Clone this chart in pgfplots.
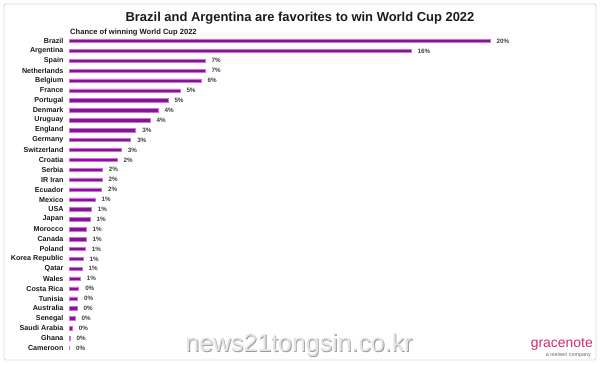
\documentclass[border=0pt]{standalone}
\usepackage{pgfplots}
\usepackage{pgfplotstable}
\pgfplotsset{compat=1.18}
\usepackage{fontspec}
\setmainfont{Liberation Sans}
\definecolor{barpurple}{HTML}{7E1A8E}
\definecolor{barglow}{HTML}{D66ADF}
\definecolor{gnote}{HTML}{D42A6E}
\definecolor{txt}{HTML}{1A1A1A}
\pgfplotstableread[col sep=comma]{
y,val,name,lab
0,0.03,Cameroon,0\%
1,0.05,Ghana,0\%
2,0.16,Saudi Arabia,0\%
3,0.29,Senegal,0\%
4,0.38,Australia,0\%
5,0.41,Tunisia,0\%
6,0.46,Costa Rica,0\%
7,0.54,Wales,1\%
8,0.62,Qatar,1\%
9,0.67,Korea Republic,1\%
10,0.77,Poland,1\%
11,0.81,Canada,1\%
12,0.81,Morocco,1\%
13,1.00,Japan,1\%
14,1.06,USA,1\%
15,1.24,Mexico,1\%
16,1.55,Ecuador,2\%
17,1.57,IR Iran,2\%
18,1.58,Serbia,2\%
19,2.28,Croatia,2\%
20,2.49,Switzerland,3\%
21,2.93,Germany,3\%
22,3.17,England,3\%
23,3.85,Uruguay,4\%
24,4.23,Denmark,4\%
25,4.70,Portugal,5\%
26,5.27,France,5\%
27,6.27,Belgium,6\%
28,6.46,Netherlands,7\%
29,6.46,Spain,7\%
30,16.25,Argentina,16\%
31,20.00,Brazil,20\%
}\data
\begin{document}
\begin{tikzpicture}[x=1bp,y=1bp]
\path[use as bounding box] (0,0) rectangle (600,365);
\draw[rounded corners=2bp, draw=black!15, line width=0.8bp] (4,5) rectangle (596,361);
\node[font=\fontsize{13}{15}\selectfont\bfseries, text=txt] at (300,347) {Brazil and Argentina are favorites to win World Cup 2022};
\node[anchor=west, font=\fontsize{7.6}{9}\selectfont\bfseries, text=txt, inner sep=0pt] at (70,332) {Chance of winning World Cup 2022};
\begin{axis}[
  at={(69bp,17bp)}, anchor=south west,
  width=421bp, height=307bp, scale only axis,
  xmin=0, xmax=20, ymin=0, ymax=31,
  xbar, bar width=3.4bp,
  axis line style={draw=none},
  xtick=\empty,
  ytick={0,...,31},
  yticklabels from table={\data}{name},
  major tick length=0pt,
  y tick label style={font=\fontsize{7.2}{8}\selectfont\bfseries, text=txt},
  yticklabel style={xshift=-2bp},
  clip=false,
  nodes near coords,
  point meta=explicit symbolic,
  every node near coord/.append style={font=\fontsize{6.3}{7}\selectfont\bfseries, text=txt!85, anchor=west, xshift=3bp},
]
\addplot[fill=barpurple, draw=barglow, line width=0.5bp] table[x=val, y=y, meta=lab] {\data};
\end{axis}
\node[text=black!40, font=\fontsize{25}{28}\selectfont] at (299.8,19.2) {news21tongsin.co.kr};
\node[text=black!10, font=\fontsize{25}{28}\selectfont] at (299,20) {news21tongsin.co.kr};
\node[anchor=east, text=gnote, font=\fontsize{14}{15}\selectfont, inner sep=0pt] at (593,21) {gracenote};
\node[anchor=east, text=black!60, font=\fontsize{5.4}{6}\selectfont, inner sep=0pt] at (591,10) {a nielsen company};
\end{tikzpicture}
\end{document}
